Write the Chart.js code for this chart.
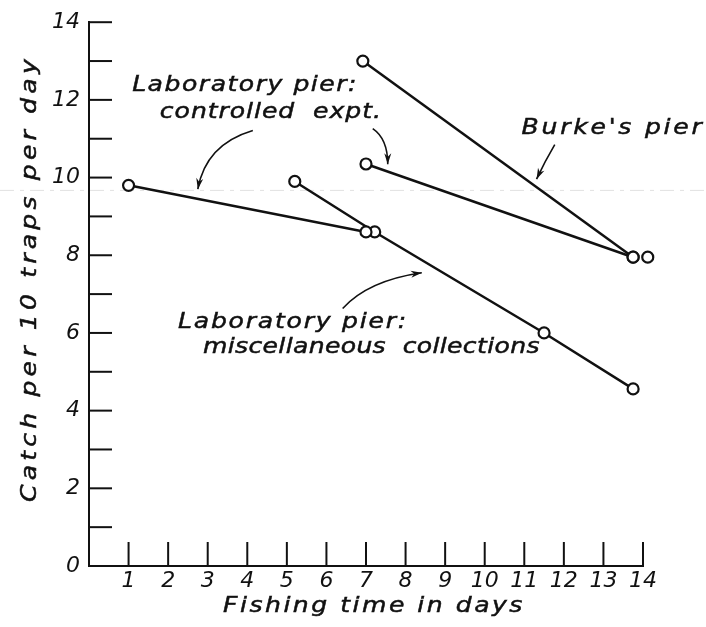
<!DOCTYPE html>
<html>
<head>
<meta charset="utf-8">
<script src="https://cdn.jsdelivr.net/npm/chart.js@4.4.1/dist/chart.umd.min.js"></script>
<style>
  html, body { margin: 0; padding: 0; background: #fff; }
  #wrap { width: 706px; height: 627px; }
</style>
</head>
<body>
<div id="wrap"><canvas id="catchChart"></canvas></div>
<script>
// Data (x = fishing time in days, y = catch per 10 traps per day)
const ctrlEarlyX = [1.0, 7.0];
const ctrlEarlyY = [9.8, 8.6];
const ctrlLateX = [7.0, 13.75];
const ctrlLateY = [10.35, 7.95];
const miscX = [5.2, 7.22, 11.5, 13.75];
const miscY = [9.9, 8.6, 6.0, 4.56];
const burkeX = [6.92, 13.75];
const burkeY = [13.0, 7.95];
const extraX = [14.12];
const extraY = [7.95];

const xTicks = [1, 2, 3, 4, 5, 6, 7, 8, 9, 10, 11, 12, 13, 14];
const yTicks = [1, 2, 3, 4, 5, 6, 7, 8, 9, 10, 11, 12, 13, 14];

const INK = '#111';
const FONT = 'italic 22px "DejaVu Sans"';

// Notes, placed in data units: [text, x, y, width in px]
const notes = [
    ['Laboratory pier:', 1.09, 12.23, 226],
    ['controlled  expt.', 1.79, 11.54, 222],
    ["Burke's pier", 10.93, 11.11, 183],
    ['Laboratory pier:', 2.25, 6.12, 230],
    ['miscellaneous  collections', 2.88, 5.48, 337]
];

// Pointer arrows: start, control, tip (data units)
const arrows = [
    [[4.14, 11.21], [2.95, 10.85], [2.75, 9.70]],
    [[7.17, 11.26], [7.55, 11.0], [7.55, 10.34]],
    [[11.77, 10.85], [11.52, 10.42], [11.31, 9.96]],
    [[6.41, 6.63], [7.05, 7.35], [8.41, 7.55]]
];

const toPts = (xs, ys) => xs.map((x, i) => ({ x: x, y: ys[i] }));

// hand lettering is wide: stretch glyphs a little, then spread to the measured width
function spacedText(ctx, str, x, y, width) {
    const stretch = 1.14;
    ctx.save();
    ctx.translate(x, y);
    ctx.scale(stretch, 1);
    ctx.letterSpacing = '0px';
    const w = ctx.measureText(str).width;
    const sp = Math.max(0, (width / stretch - w) / str.length);
    ctx.letterSpacing = sp.toFixed(2) + 'px';
    ctx.lineWidth = 0.5;
    ctx.strokeStyle = INK;
    ctx.fillText(str, 0, 0);
    ctx.strokeText(str, 0, 0);
    ctx.restore();
}

const sketchLayer = {
    id: 'sketchLayer',
    beforeDatasetsDraw(chart) {
        const ctx = chart.ctx;
        const xs = chart.scales.x, ys = chart.scales.y;
        ctx.save();

        // faint scan streak across the sheet
        ctx.strokeStyle = 'rgba(0,0,0,0.12)';
        ctx.lineWidth = 1;
        ctx.setLineDash([14, 6, 4, 6]);
        ctx.beginPath();
        const sy = ys.getPixelForValue(9.67);
        ctx.moveTo(0, sy);
        ctx.lineTo(chart.width, sy);
        ctx.stroke();
        ctx.setLineDash([]);

        // inward tick marks
        ctx.strokeStyle = INK;
        ctx.lineWidth = 2;
        const x0 = xs.getPixelForValue(0), y0 = ys.getPixelForValue(0);
        yTicks.forEach(v => {
            const p = ys.getPixelForValue(v);
            ctx.beginPath();
            ctx.moveTo(x0, p);
            ctx.lineTo(x0 + 23, p);
            ctx.stroke();
        });
        xTicks.forEach(v => {
            const p = xs.getPixelForValue(v);
            ctx.beginPath();
            ctx.moveTo(p, y0);
            ctx.lineTo(p, y0 - 24);
            ctx.stroke();
        });

        // arrows
        ctx.lineWidth = 1.6;
        ctx.fillStyle = INK;
        arrows.forEach(a => {
            const s = [xs.getPixelForValue(a[0][0]), ys.getPixelForValue(a[0][1])];
            const c = [xs.getPixelForValue(a[1][0]), ys.getPixelForValue(a[1][1])];
            const t = [xs.getPixelForValue(a[2][0]), ys.getPixelForValue(a[2][1])];
            ctx.beginPath();
            ctx.moveTo(s[0], s[1]);
            ctx.quadraticCurveTo(c[0], c[1], t[0], t[1]);
            ctx.stroke();
            const ang = Math.atan2(t[1] - c[1], t[0] - c[0]);
            const len = 11, half = 3.5;
            ctx.beginPath();
            ctx.moveTo(t[0], t[1]);
            ctx.lineTo(t[0] - len * Math.cos(ang) + half * Math.sin(ang), t[1] - len * Math.sin(ang) - half * Math.cos(ang));
            ctx.lineTo(t[0] - len * 0.7 * Math.cos(ang), t[1] - len * 0.7 * Math.sin(ang));
            ctx.lineTo(t[0] - len * Math.cos(ang) - half * Math.sin(ang), t[1] - len * Math.sin(ang) + half * Math.cos(ang));
            ctx.closePath();
            ctx.fill();
        });

        // notes
        ctx.font = FONT;
        ctx.textBaseline = 'alphabetic';
        ctx.textAlign = 'left';
        notes.forEach(n => {
            spacedText(ctx, n[0], xs.getPixelForValue(n[1]), ys.getPixelForValue(n[2]), n[3]);
        });

        // axis titles
        spacedText(ctx, 'Fishing time in days', 223, 612, 302);
        ctx.translate(36, 502);
        ctx.rotate(-Math.PI / 2);
        spacedText(ctx, 'Catch per 10 traps per day', 0, 0, 447);

        ctx.restore();
    }
};

const lineStyle = {
    borderColor: INK,
    borderWidth: 2.5,
    pointRadius: 5.5,
    pointBackgroundColor: '#fff',
    pointBorderColor: INK,
    pointBorderWidth: 2.2,
    tension: 0,
    clip: false
};

const tickFont = { family: 'DejaVu Sans', size: 22, style: 'italic' };

new Chart(document.getElementById('catchChart'), {
    type: 'line',
    data: {
        datasets: [
            { label: 'Laboratory pier: controlled expt.', data: toPts(ctrlEarlyX, ctrlEarlyY), ...lineStyle },
            { label: 'Laboratory pier: controlled expt. (later)', data: toPts(ctrlLateX, ctrlLateY), ...lineStyle },
            { label: 'Laboratory pier: miscellaneous collections', data: toPts(miscX, miscY), ...lineStyle },
            { label: "Burke's pier", data: toPts(burkeX, burkeY), ...lineStyle },
            { label: "Burke's pier (end)", data: toPts(extraX, extraY), ...lineStyle, showLine: false }
        ]
    },
    options: {
        responsive: true,
        maintainAspectRatio: false,
        animation: false,
        devicePixelRatio: 1,
        layout: { padding: { left: 0, right: 63, top: 19, bottom: 0 } },
        plugins: {
            legend: { display: false },
            tooltip: { enabled: false }
        },
        scales: {
            x: {
                type: 'linear',
                min: 0,
                max: 14,
                afterFit: (s) => { s.height = 61; },
                grid: { display: false, drawTicks: false },
                border: { display: true, color: INK, width: 2 },
                ticks: {
                    stepSize: 1,
                    autoSkip: false,
                    maxRotation: 0,
                    padding: 2,
                    color: INK,
                    font: tickFont,
                    callback: (v) => (v === 0 ? '' : v)
                }
            },
            y: {
                min: 0,
                max: 14,
                afterFit: (s) => { s.width = 89; },
                grid: { display: false, drawTicks: false },
                border: { display: true, color: INK, width: 2 },
                ticks: {
                    stepSize: 2,
                    padding: 9,
                    color: INK,
                    font: tickFont
                }
            }
        }
    },
    plugins: [sketchLayer]
});
</script>
</body>
</html>
